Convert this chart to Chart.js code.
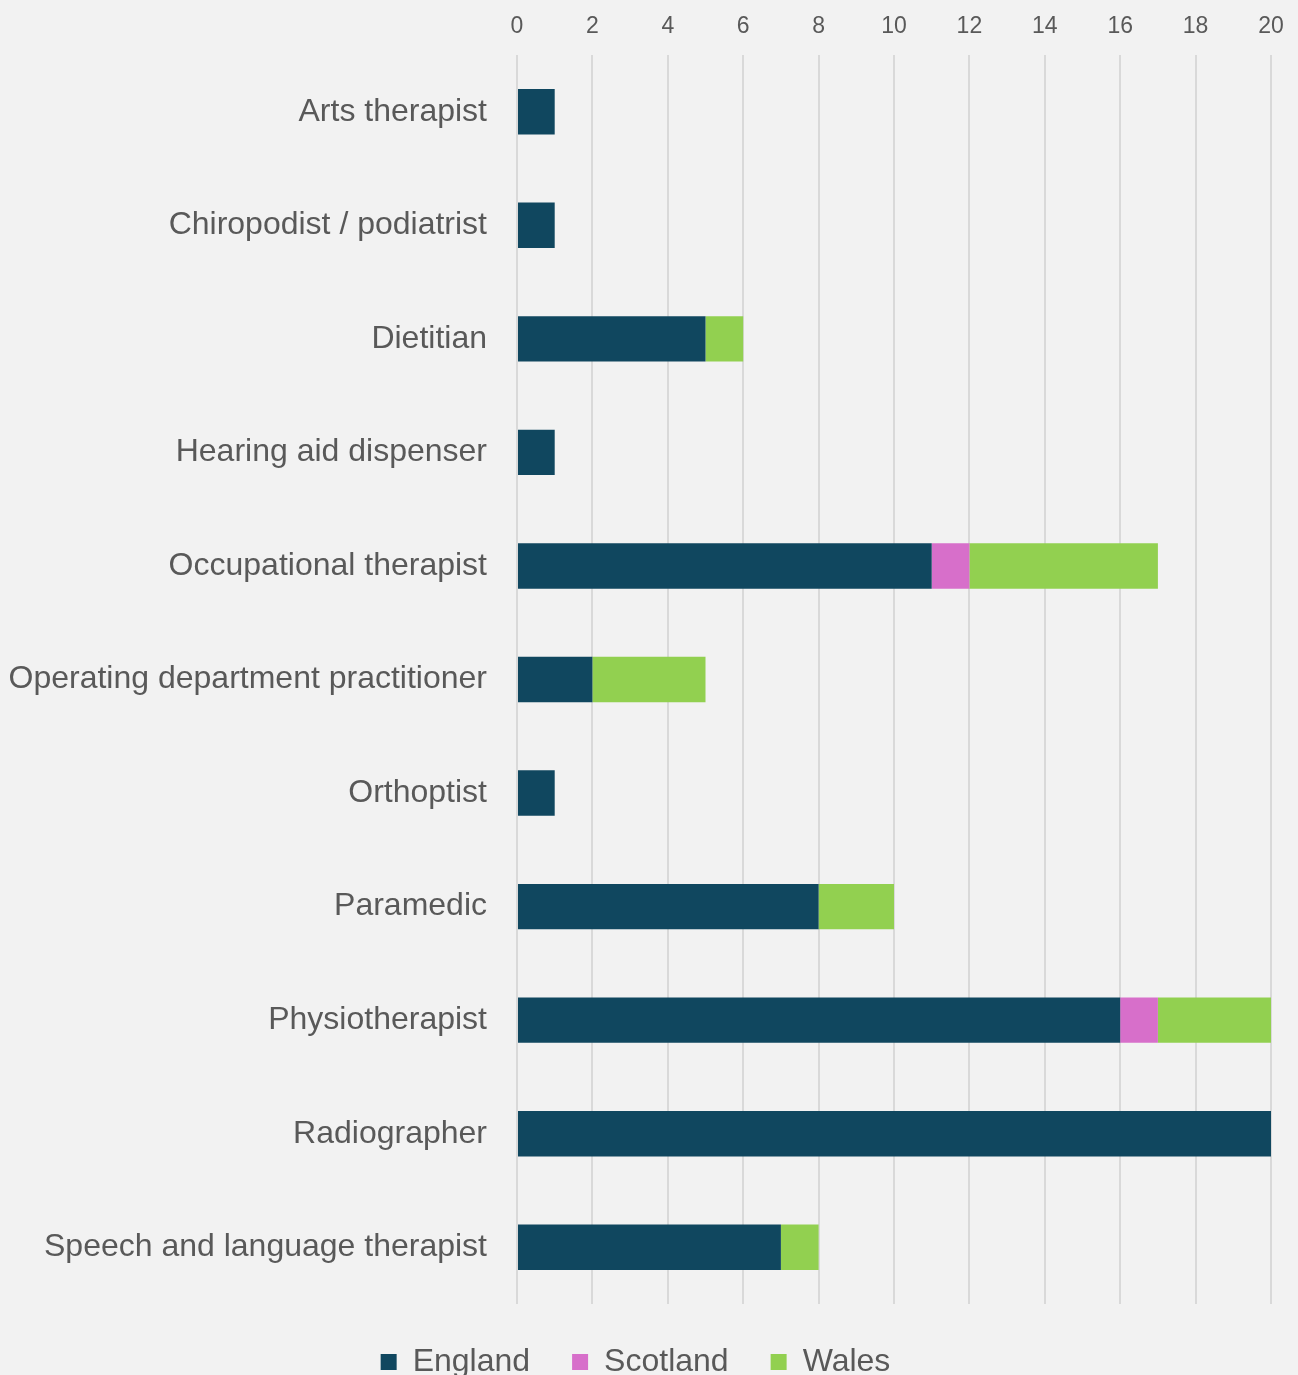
<!DOCTYPE html>
<html>
<head>
<meta charset="utf-8">
<script src="https://cdn.jsdelivr.net/npm/chart.js@4"></script>
<style>
  html, body { margin: 0; padding: 0; background: #f2f2f2; }
  #wrap { width: 1298px; height: 1375px; }
</style>
</head>
<body>
<div id="wrap"><canvas id="chart" width="1298" height="1375"></canvas></div>
<script>
const professions = [
  "Arts therapist",
  "Chiropodist / podiatrist",
  "Dietitian",
  "Hearing aid dispenser",
  "Occupational therapist",
  "Operating department practitioner",
  "Orthoptist",
  "Paramedic",
  "Physiotherapist",
  "Radiographer",
  "Speech and language therapist"
];
const england = [1, 1, 5, 1, 11, 2, 1, 8, 16, 20, 7];
const scotland = [0, 0, 0, 0, 1, 0, 0, 0, 1, 0, 0];
const wales = [0, 0, 1, 0, 5, 3, 0, 2, 3, 0, 1];

const textColor = "#595959";
const fontFamily = "'Liberation Sans', Arial, sans-serif";

new Chart(document.getElementById("chart"), {
  type: "bar",
  data: {
    labels: professions,
    datasets: [
      { label: "England", data: england, backgroundColor: "#10475f" },
      { label: "Scotland", data: scotland, backgroundColor: "#d76fca" },
      { label: "Wales", data: wales, backgroundColor: "#92d050" }
    ]
  },
  options: {
    indexAxis: "y",
    responsive: false,
    animation: false,
    barPercentage: 0.4,
    categoryPercentage: 1,
    layout: { padding: { top: 0, right: 27, bottom: -13, left: 0 } },
    plugins: {
      tooltip: { enabled: false },
      legend: {
        position: "bottom",
        labels: {
          color: textColor,
          font: { family: fontFamily, size: 32 },
          boxWidth: 16,
          boxHeight: 16,
          padding: 42
        }
      }
    },
    scales: {
      x: {
        position: "top",
        stacked: true,
        min: 0,
        max: 20,
        ticks: {
          stepSize: 2,
          color: textColor,
          font: { family: fontFamily, size: 23 },
          padding: 15
        },
        grid: { color: "#d9d9d9", lineWidth: 2, drawTicks: false },
        border: { display: false },
        afterFit(scale) {
          scale.height = 55;
          scale.paddingLeft = 0;
          scale.paddingRight = 0;
        }
      },
      y: {
        stacked: true,
        ticks: {
          color: textColor,
          font: { family: fontFamily, size: 32 },
          padding: 30
        },
        grid: { display: false, drawTicks: false },
        border: { display: false },
        afterFit(scale) { scale.width = 517; }
      }
    }
  }
});
</script>
</body>
</html>
